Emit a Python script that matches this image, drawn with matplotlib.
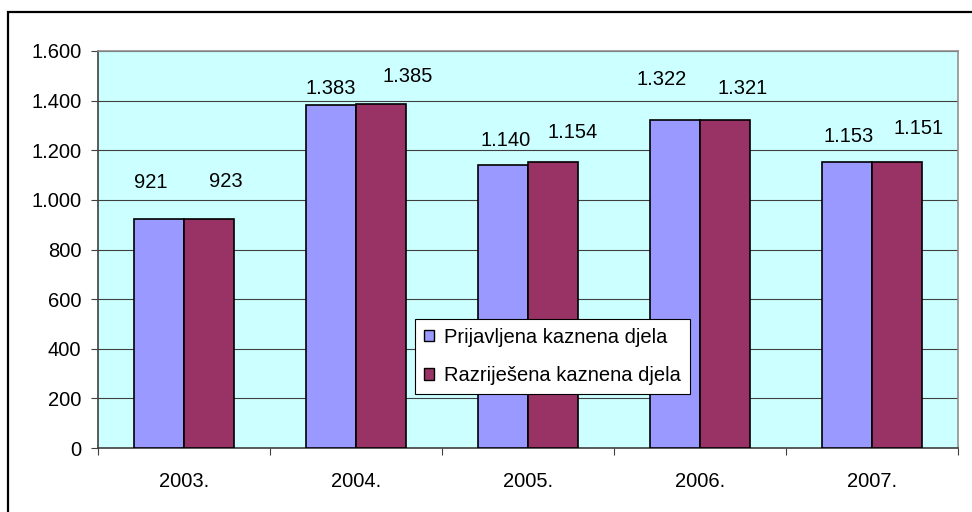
import matplotlib.pyplot as plt
from matplotlib.patches import Rectangle
from matplotlib.ticker import FuncFormatter
import numpy as np

plt.rcParams['font.family'] = ['Liberation Sans', 'DejaVu Sans']

godine = ['2003.', '2004.', '2005.', '2006.', '2007.']
prijavljena = [921, 1383, 1140, 1322, 1153]
razrijesena = [923, 1385, 1154, 1321, 1151]
serije = ['Prijavljena kaznena djela', 'Razriješena kaznena djela']

# pomak natpisa vrijednosti (pikseli) od vrha stupca
pomak_p = [(-8, 37), (0, 16), (3, 25), (-13, 40), (2, 25)]
pomak_r = [(17, 37), (27, 28), (20, 29), (18, 32), (22, 34)]

def tocke(v, pos):
    return f'{int(v):,}'.replace(',', '.')

fig = plt.figure(figsize=(9.72, 5.12), dpi=100)
ax = fig.add_axes([98/972, 1-448/512, 860/972, 397/512])
ax.set_facecolor('#CCFFFF')

x = np.arange(len(godine))
w = 0.29
b1 = ax.bar(x - w/2, prijavljena, w, color='#9999FF', edgecolor='black', linewidth=1.2,
            label=serije[0], zorder=3)
b2 = ax.bar(x + w/2, razrijesena, w, color='#993366', edgecolor='black', linewidth=1.2,
            label=serije[1], zorder=3)

for rects, vals, off in [(b1, prijavljena, pomak_p), (b2, razrijesena, pomak_r)]:
    for r, v, (dx, dy) in zip(rects, vals, off):
        ax.annotate(tocke(v, None), (r.get_x() + r.get_width()/2, v),
                    xytext=(dx, dy), textcoords='offset pixels',
                    ha='center', va='center', fontsize=14.5)

ax.set_xlim(-0.5, len(godine) - 0.5)
ax.set_ylim(0, 1600)
ax.set_yticks(range(0, 1601, 200))
ax.yaxis.set_major_formatter(FuncFormatter(tocke))
ax.grid(axis='y', color='#404040', linewidth=0.8, zorder=1)
ax.set_axisbelow(True)

ax.set_xticks(np.arange(len(godine) + 1) - 0.5)
ax.set_xticklabels([])
ax.set_xticks(x, minor=True)
ax.set_xticklabels(godine, minor=True, fontsize=14.5)
ax.tick_params(axis='x', which='major', length=5, color='#404040', direction='out')
ax.tick_params(axis='x', which='minor', length=0, pad=17)
ax.tick_params(axis='y', length=5, color='#404040', pad=7, labelsize=14.5)

for s in ['left', 'bottom']:
    ax.spines[s].set_color('#404040')
    ax.spines[s].set_linewidth(1.2)
for s in ['top', 'right']:
    ax.spines[s].set_color('#909090')
    ax.spines[s].set_linewidth(1.2)

leg = ax.legend(loc='lower left', bbox_to_anchor=(0.3686, 0.136), borderaxespad=0,
                fontsize=14.5, frameon=True, fancybox=False, handlelength=0.5,
                handleheight=0.5, handletextpad=0.5, labelspacing=0.95,
                borderpad=0.45)
leg.get_frame().set_edgecolor('black')
leg.get_frame().set_linewidth(0.8)
leg.get_frame().set_facecolor('white')
leg.get_frame().set_alpha(1)
for h in leg.legend_handles:
    h.set_linewidth(1.0)

# okvir oko cijelog grafikona
fig.patches.append(Rectangle((8/972, -0.1), 1.2, 1 - 12/512 + 0.1, transform=fig.transFigure,
                             fill=False, edgecolor='black', linewidth=1.6))

fig.savefig('out.png', dpi=100)
